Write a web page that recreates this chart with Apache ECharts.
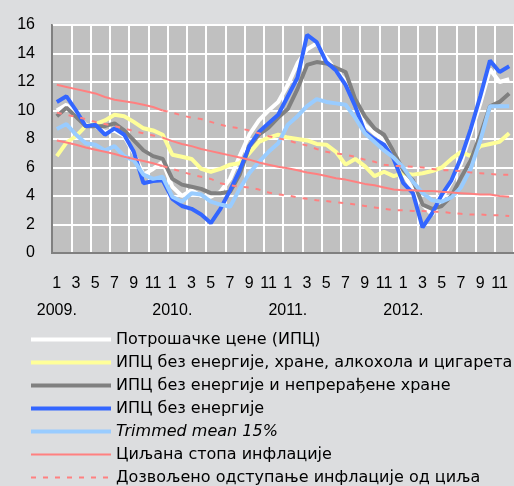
<!DOCTYPE html>
<html>
<head>
<meta charset="utf-8">
<script src="https://cdn.jsdelivr.net/npm/echarts@6/dist/echarts.min.js"></script>
<style>
    html, body { margin: 0; padding: 0; background: #dcdddf; }
    #main { width: 514px; height: 486px; }
</style>
</head>
<body>
<div id="main"></div>
<script>
    // months 2009-2012
    var years = ['2009.', '2010.', '2011.', '2012.'];
    var monthNums = ['1','2','3','4','5','6','7','8','9','10','11','12'];
    var categories = [];
    for (var y = 0; y < years.length; y++) {
        for (var m = 0; m < monthNums.length; m++) categories.push(monthNums[m]);
    }

    var cpi = [10.0, 10.4, 9.7, 9.0, 8.9, 8.5, 8.6, 8.2, 7.0, 5.5, 5.9, 6.4,
        4.65, 4.0, 4.4, 4.0, 3.95, 4.3, 5.2, 6.8, 8.3, 9.3, 10.0, 10.6,
        11.8, 13.3, 14.3, 14.7, 13.7, 12.8, 12.1, 10.5, 9.0, 8.4, 7.9, 7.1,
        5.6, 4.4, 3.4, 2.7, 3.8, 5.0, 6.3, 8.4, 10.5, 12.9, 12.0, 12.2];
    var cpiCore = [6.8, 7.75, 8.2, 8.9, 9.05, 9.3, 9.7, 9.6, 9.2, 8.75, 8.6, 8.3,
        6.9, 6.75, 6.6, 5.9, 5.7, 5.9, 6.2, 6.3, 7.0, 7.8, 8.1, 8.3,
        8.1, 8.0, 7.9, 7.65, 7.6, 7.1, 6.2, 6.6, 6.1, 5.4, 5.7, 5.4,
        5.6, 5.5, 5.6, 5.75, 6.0, 6.6, 7.1, 6.8, 7.5, 7.65, 7.8, 8.4];
    var cpiExEnergyFood = [9.6, 10.2, 9.55, 8.9, 8.9, 8.9, 9.1, 8.6, 7.9, 7.2, 6.8, 6.6,
        5.2, 4.8, 4.65, 4.5, 4.2, 4.2, 4.3, 5.5, 7.5, 8.3, 8.8, 9.5,
        10.1, 11.5, 13.2, 13.4, 13.3, 13.0, 12.7, 10.8, 9.6, 8.75, 8.3, 7.1,
        5.8, 5.1, 3.4, 3.1, 3.3, 4.0, 5.3, 6.5, 8.3, 10.3, 10.6, 11.2];
    var cpiExEnergy = [10.6, 11.0, 10.0, 8.9, 9.0, 8.3, 8.75, 8.3, 7.1, 4.9, 5.05, 5.1,
        3.8, 3.3, 3.1, 2.7, 2.1, 3.1, 4.4, 5.8, 7.5, 8.5, 9.1, 9.7,
        11.0, 12.3, 15.3, 14.8, 13.4, 12.8, 11.8, 10.3, 8.5, 8.0, 7.6, 6.6,
        4.9, 4.2, 1.8, 2.8, 4.1, 5.1, 6.7, 8.7, 11.0, 13.5, 12.7, 13.1];
    var trimmedMean = [8.7, 9.05, 8.3, 7.7, 7.6, 7.2, 7.5, 6.8, 6.5, 5.5, 5.2, 5.35,
        3.95, 3.6, 4.2, 4.1, 3.6, 3.4, 3.25, 4.5, 5.6, 6.4, 7.1, 7.7,
        9.0, 9.6, 10.3, 10.8, 10.6, 10.5, 10.4, 9.5, 8.4, 7.8, 7.2, 6.7,
        6.0, 5.0, 4.2, 3.7, 3.6, 3.9, 4.6, 5.9, 7.9, 10.3, 10.3, 10.3];
    // target path and the upper / lower bounds
    var target = [9.85, 9.7, 9.55, 9.4, 9.2, 9.05, 8.9, 8.75, 8.55, 8.4, 8.25, 8.1,
        7.85, 7.65, 7.5, 7.3, 7.15, 7.0, 6.85, 6.7, 6.55, 6.35, 6.2, 6.05,
        5.95, 5.8, 5.65, 5.55, 5.4, 5.25, 5.15, 5.0, 4.85, 4.75, 4.6, 4.45,
        4.4, 4.4, 4.35, 4.35, 4.3, 4.25, 4.2, 4.15, 4.1, 4.1, 4.0, 3.95];
    var upperBound = [11.8, 11.65, 11.5, 11.35, 11.2, 10.95, 10.75, 10.65, 10.55, 10.4, 10.25, 10.0,
        9.85, 9.65, 9.5, 9.4, 9.2, 9.0, 8.85, 8.75, 8.6, 8.4, 8.2, 8.05,
        7.9, 7.7, 7.55, 7.3, 7.1, 7.0, 6.9, 6.75, 6.55, 6.4, 6.2, 6.1,
        6.1, 6.05, 6.0, 5.9, 5.8, 5.8, 5.75, 5.65, 5.6, 5.55, 5.5, 5.5];
    var lowerBound = [7.9, 7.75, 7.6, 7.4, 7.25, 7.1, 6.95, 6.75, 6.6, 6.45, 6.3, 6.1,
        5.9, 5.7, 5.5, 5.35, 5.2, 4.9, 4.75, 4.65, 4.6, 4.45, 4.25, 4.1,
        4.05, 3.9, 3.8, 3.7, 3.65, 3.55, 3.5, 3.4, 3.3, 3.2, 3.1, 3.0,
        3.0, 2.95, 2.95, 2.9, 2.9, 2.8, 2.75, 2.7, 2.7, 2.65, 2.65, 2.6];
    var switchIdx = 11; // 2009 drawn with the opposite styles

    function part(arr, first) {
        return arr.map(function (v, i) {
            if (first) return i <= switchIdx ? v : null;
            return i >= switchIdx ? v : null;
        });
    }

    var names = ['Потрошачке цене (ИПЦ)',
        'ИПЦ без енергије, хране, алкохола и цигарета',
        'ИПЦ без енергије и непрерађене хране',
        'ИПЦ без енергије',
        'Trimmed mean 15%',
        'Циљана стопа инфлације',
        'Дозвољено одступање инфлације од циља'];

    var red = '#ff8080';
    var font = 'Liberation Sans, Arial, sans-serif';

    function dataLine(name, data, color, w) {
        return { name: name, type: 'line', data: data, symbol: 'none',
            lineStyle: { color: color, width: w }, itemStyle: { color: color } };
    }
    function redLine(name, data, dashed) {
        return { name: name, type: 'line', data: data, symbol: 'none', connectNulls: false,
            lineStyle: { color: red, width: 2, type: dashed ? [5, 7] : 'solid' },
            itemStyle: { color: red } };
    }

    var chart = echarts.init(document.getElementById('main'));
    var option = {
        animation: false,
        backgroundColor: '#dcdddf',
        textStyle: { fontFamily: font },
        grid: {
            left: 52, top: 25, width: 464, height: 228,
            show: true, backgroundColor: '#c0c0c0', borderColor: '#808080', borderWidth: 2
        },
        legend: {
            orient: 'vertical', left: 29, top: 331, height: 170, padding: 0,
            itemWidth: 80, itemHeight: 10, itemGap: 6,
            itemStyle: { opacity: 0 },
            lineStyle: { width: 4 },
            textStyle: { color: '#000', fontSize: 16, fontFamily: 'DejaVu Sans', lineHeight: 17 },
            data: [names[0], names[1], names[2], names[3],
                { name: names[4], textStyle: { fontStyle: 'italic' } },
                { name: names[5], lineStyle: { width: 2 } },
                { name: names[6], lineStyle: { width: 2 } }]
        },
        xAxis: [{
            type: 'category', data: categories, boundaryGap: true,
            axisLine: { lineStyle: { color: '#808080', width: 2 } },
            axisTick: { show: false },
            axisLabel: { interval: 1, margin: 23, color: '#000', fontSize: 16, fontFamily: font },
            splitLine: { show: true, interval: 1, lineStyle: { color: '#fff', width: 2 } }
        }, {
            type: 'category', data: categories, boundaryGap: true, position: 'bottom',
            axisLine: { show: false }, axisTick: { show: false }, splitLine: { show: false },
            axisLabel: {
                margin: 50, color: '#000', fontSize: 16, fontFamily: font,
                interval: function (i) { return i % 12 === 0; },
                formatter: function (v, i) { return years[Math.floor(i / 12)]; }
            }
        }],
        yAxis: {
            type: 'value', min: 0, max: 16, interval: 2,
            axisLine: { show: true, lineStyle: { color: '#808080', width: 2 } },
            axisTick: { show: false },
            axisLabel: { margin: 17, color: '#000', fontSize: 16, fontFamily: font },
            splitLine: { lineStyle: { color: '#fff', width: 2 } }
        },
        series: [
            dataLine(names[0], cpi, '#ffffff', 4),
            dataLine(names[1], cpiCore, '#ffff99', 4),
            dataLine(names[2], cpiExEnergyFood, '#808080', 4),
            dataLine(names[3], cpiExEnergy, '#3366ff', 4),
            dataLine(names[4], trimmedMean, '#99ccff', 4),
            redLine(names[5], part(target, false), false),
            redLine(names[6], part(upperBound, false), true),
            redLine('lower', part(lowerBound, false), true),
            redLine('target2009', part(target, true), true),
            redLine('upper2009', part(upperBound, true), false),
            redLine('lower2009', part(lowerBound, true), false)
        ]
    };
    chart.setOption(option);
</script>
</body>
</html>
